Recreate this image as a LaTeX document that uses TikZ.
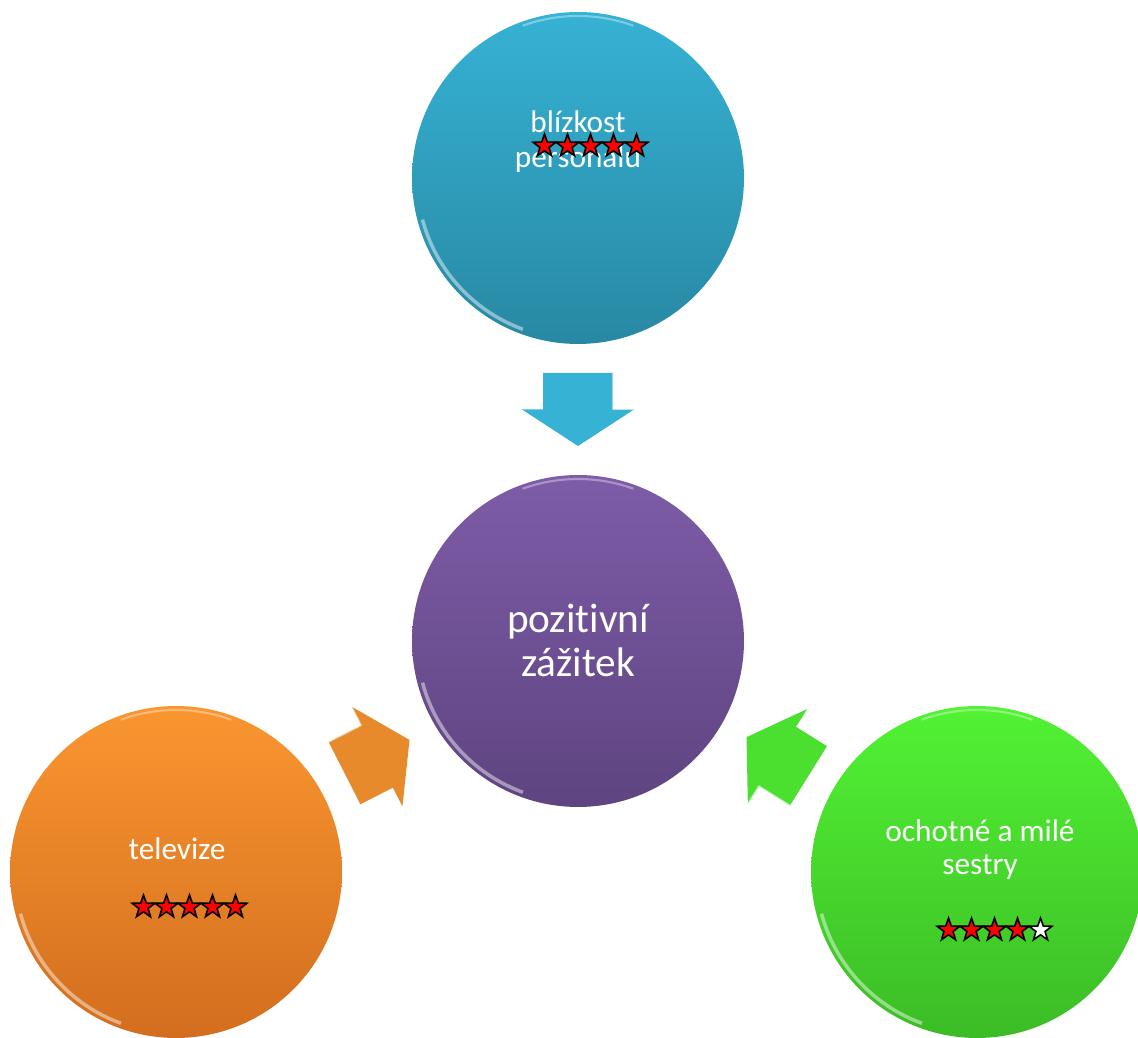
\documentclass[tikz,border=0pt]{standalone}
\usepackage{fontspec}
\setmainfont{Carlito}[Ligatures=NoCommon]
\usetikzlibrary{shapes.geometric,calc}

\definecolor{modraA}{RGB}{54,178,212}
\definecolor{modraB}{RGB}{40,136,163}
\definecolor{fialA}{RGB}{126,92,168}
\definecolor{fialB}{RGB}{94,68,128}
\definecolor{oranzA}{RGB}{250,150,48}
\definecolor{oranzB}{RGB}{210,110,30}
\definecolor{zelenA}{RGB}{82,242,52}
\definecolor{zelenB}{RGB}{60,188,38}

\tikzset{
    bublina/.style={circle, minimum size=6.64cm, inner sep=0pt},
    popis/.style={text=white, anchor=base, inner sep=0pt, font=\fontsize{17.8}{20}\selectfont},
    velky/.style={popis, font=\fontsize{23.5}{26}\selectfont},
    hvezda/.style={star, star points=5, star point ratio=2.5, minimum size=0.48cm,
        inner sep=0pt, draw=black, line width=0.9pt, fill=red}
}

% sipka: pozice, uhel, barva
\newcommand{\sipka}[3]{
    \begin{scope}[shift={#1}, rotate=#2]
        \fill[#3]
            (-36.5,-35) -- (0,-35) -- (0,-56) -- (36.5,0) -- (0,56) -- (0,35) -- (-36.5,35) -- cycle;
        \draw[white, opacity=.5, line width=1pt] (-36.5,35) -- (0,35) -- (0,56);
    \end{scope}
}
% lesk na okraji kruhu
\newcommand{\lesk}[1]{
    \draw[white, opacity=.45, line width=2pt] ($(#1)+(195:161)$) arc (195:250:161);
    \draw[white, opacity=.35, line width=1.2pt] ($(#1)+(70:162)$) arc (70:110:162);
}

\begin{document}
\begin{tikzpicture}[x=0.02cm, y=0.02cm]
    \useasboundingbox (0,0) rectangle (1138,1037);

    % Kruhy
    \node[bublina, top color=modraA, bottom color=modraB] (horni) at (578,859) {};
    \node[bublina, top color=fialA, bottom color=fialB] (stred) at (578,396) {};
    \node[bublina, top color=oranzA, bottom color=oranzB] (levy) at (176,165) {};
    \node[bublina, top color=zelenA, bottom color=zelenB] (pravy) at (977,165) {};
    \foreach \k in {horni,stred,levy,pravy}{
        \lesk{\k}
    }

    % Sipky ke stredu
    \sipka{($(horni)!0.5!(stred)$)}{-90}{modraA}
    \sipka{($(levy)!0.5!(stred)$)}{27}{oranzA!92!black}
    \sipka{($(pravy)!0.5!(stred)$)}{148}{zelenA!92!black}

    % Texty
    \node[popis] (t1) at ($(horni)+(0,45)$) {blízkost};
    \node[popis] (t2) at ($(horni)+(0,10)$) {personálu};
    \node[velky] (t3) at ($(stred)+(0,8)$) {pozitivní};
    \node[velky] (t4) at ($(stred)+(0,-36)$) {zážitek};
    \node[popis] (t5) at ($(levy)+(1,12)$) {televize};
    \node[popis] (t6) at ($(pravy)+(3,30)$) {ochotné a milé};
    \node[popis] (t7) at ($(pravy)+(3,-3)$) {sestry};

    % Hodnoceni hvezdami
    \foreach \i in {0,...,4}{
        \node[hvezda] (hh\i) at ($(horni)+(\i*23-33.5,32)$) {};
        \node[hvezda] (hl\i) at ($(levy)+(\i*23-32.5,-35)$) {};
    }
    \foreach \i in {0,...,3}
        \node[hvezda] (hp\i) at ($(pravy)+(\i*23-28.5,-58)$) {};
    \node[hvezda, fill=white] (hp4) at ($(pravy)+(63.5,-58)$) {};
\end{tikzpicture}
\end{document}
